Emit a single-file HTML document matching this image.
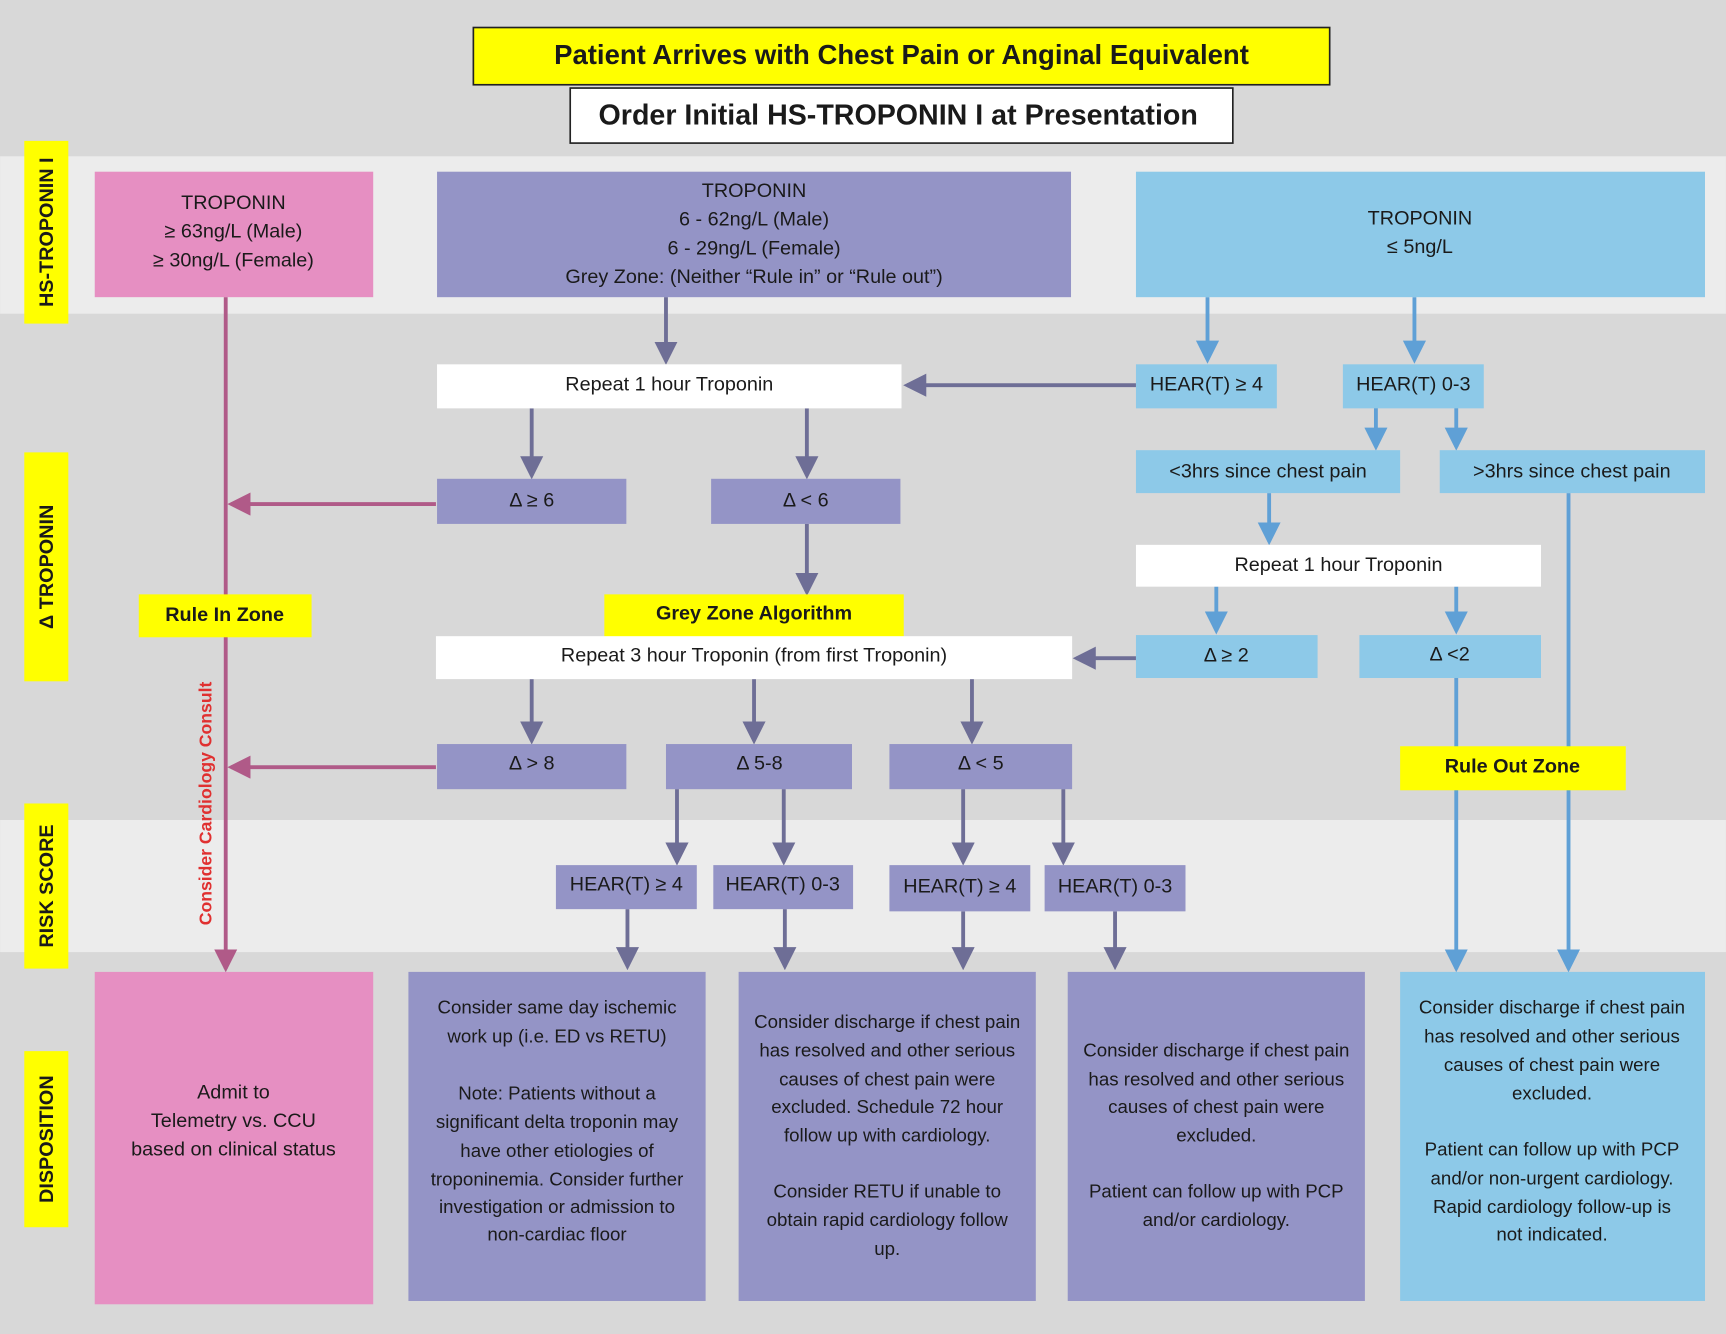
<!DOCTYPE html>
<html><head><meta charset="utf-8"><style>
html,body{margin:0;padding:0;background:#d8d8d8;}
svg{display:block;}
text{font-family:"Liberation Sans",sans-serif;fill:#1a1a1a;}
.b{font-weight:bold;}
</style></head><body>
<svg width="1726" height="1334" viewBox="0 0 1568 1212" xmlns="http://www.w3.org/2000/svg">
<defs>
<marker id="ap" markerWidth="6" markerHeight="6" refX="5" refY="3" orient="auto" markerUnits="strokeWidth"><path d="M0,0 L6,3 L0,6 z" fill="#6e6e96"/></marker>
<marker id="ab" markerWidth="6" markerHeight="6" refX="5" refY="3" orient="auto" markerUnits="strokeWidth"><path d="M0,0 L6,3 L0,6 z" fill="#5fa0d6"/></marker>
<marker id="ak" markerWidth="6" markerHeight="6" refX="5" refY="3" orient="auto" markerUnits="strokeWidth"><path d="M0,0 L6,3 L0,6 z" fill="#b05a88"/></marker>
</defs>
<!-- bands -->
<rect x="0" y="0" width="1568" height="1212" fill="#d8d8d8"/>
<rect x="0" y="142" width="1568" height="143" fill="#ececec"/>
<rect x="0" y="745" width="1568" height="120" fill="#ececec"/>

<!-- header -->
<rect x="430" y="25" width="778" height="52" fill="#ffff00" stroke="#222" stroke-width="1.5"/>
<text x="819" y="58" text-anchor="middle" font-size="25" class="b">Patient Arrives with Chest Pain or Anginal Equivalent</text>
<rect x="518" y="80" width="602" height="50" fill="#fff" stroke="#222" stroke-width="1.5"/>
<text x="816" y="113" text-anchor="middle" font-size="26" class="b">Order Initial HS-TROPONIN I at Presentation</text>

<!-- side labels -->
<g font-size="18" class="b">
<rect x="22" y="128" width="40" height="166" fill="#ffff00"/>
<text transform="translate(48,211) rotate(-90)" text-anchor="middle" class="b">HS-TROPONIN I</text>
<rect x="22" y="411" width="40" height="208" fill="#ffff00"/>
<text transform="translate(48,515) rotate(-90)" text-anchor="middle" class="b">Δ TROPONIN</text>
<rect x="22" y="730" width="40" height="150" fill="#ffff00"/>
<text transform="translate(48,805) rotate(-90)" text-anchor="middle" class="b">RISK SCORE</text>
<rect x="22" y="955" width="40" height="160" fill="#ffff00"/>
<text transform="translate(48,1035) rotate(-90)" text-anchor="middle" class="b">DISPOSITION</text>
</g>

<!-- connectors -->
<g fill="none" stroke-width="3.5">
<line x1="205" y1="270" x2="205" y2="880" stroke="#b05a88" marker-end="url(#ak)"/>
<line x1="396" y1="458" x2="210" y2="458" stroke="#b05a88" marker-end="url(#ak)"/>
<line x1="396" y1="697" x2="210" y2="697" stroke="#b05a88" marker-end="url(#ak)"/>
<g stroke="#6e6e96" marker-end="url(#ap)">
<line x1="605" y1="270" x2="605" y2="328"/>
<line x1="1032" y1="350" x2="824" y2="350"/>
<line x1="483" y1="371" x2="483" y2="432"/>
<line x1="733" y1="371" x2="733" y2="432"/>
<line x1="733" y1="476" x2="733" y2="538"/>
<line x1="1032" y1="598" x2="978" y2="598"/>
<line x1="483" y1="617" x2="483" y2="673"/>
<line x1="685" y1="617" x2="685" y2="673"/>
<line x1="883" y1="617" x2="883" y2="673"/>
<line x1="615" y1="717" x2="615" y2="783"/>
<line x1="712" y1="717" x2="712" y2="783"/>
<line x1="875" y1="717" x2="875" y2="783"/>
<line x1="966" y1="717" x2="966" y2="783"/>
<line x1="570" y1="826" x2="570" y2="878"/>
<line x1="713" y1="826" x2="713" y2="878"/>
<line x1="875" y1="828" x2="875" y2="878"/>
<line x1="1013" y1="828" x2="1013" y2="878"/>
</g>
<g stroke="#5fa0d6" marker-end="url(#ab)">
<line x1="1097" y1="270" x2="1097" y2="327"/>
<line x1="1285" y1="270" x2="1285" y2="327"/>
<line x1="1250" y1="370" x2="1250" y2="406"/>
<line x1="1323" y1="370" x2="1323" y2="406"/>
<line x1="1153" y1="448" x2="1153" y2="492"/>
<line x1="1105" y1="533" x2="1105" y2="573"/>
<line x1="1323" y1="533" x2="1323" y2="573"/>
<line x1="1323" y1="616" x2="1323" y2="880"/>
<line x1="1425" y1="448" x2="1425" y2="880"/>
</g>
</g>

<!-- top boxes -->
<rect x="86" y="156" width="253" height="114" fill="#e68fc2"/>
<g font-size="18" text-anchor="middle">
<text x="212" y="190">TROPONIN</text>
<text x="212" y="216">≥ 63ng/L (Male)</text>
<text x="212" y="242">≥ 30ng/L (Female)</text>
</g>
<rect x="397" y="156" width="576" height="114" fill="#9494c6"/>
<g font-size="18" text-anchor="middle">
<text x="685" y="179">TROPONIN</text>
<text x="685" y="205">6 - 62ng/L (Male)</text>
<text x="685" y="231">6 - 29ng/L (Female)</text>
<text x="685" y="257">Grey Zone: (Neither “Rule in” or “Rule out”)</text>
</g>
<rect x="1032" y="156" width="517" height="114" fill="#8dc9e8"/>
<g font-size="18" text-anchor="middle">
<text x="1290" y="204">TROPONIN</text>
<text x="1290" y="230">≤ 5ng/L</text>
</g>

<!-- mid boxes -->
<g font-size="18" text-anchor="middle">
<rect x="397" y="331" width="422" height="40" fill="#fff"/><text x="608" y="355">Repeat 1 hour Troponin</text>
<rect x="1032" y="331" width="128" height="40" fill="#8dc9e8"/><text x="1096" y="355">HEAR(T) ≥ 4</text>
<rect x="1220" y="331" width="128" height="40" fill="#8dc9e8"/><text x="1284" y="355">HEAR(T) 0-3</text>
<rect x="1032" y="409" width="240" height="39" fill="#8dc9e8"/><text x="1152" y="434">&lt;3hrs since chest pain</text>
<rect x="1308" y="409" width="241" height="39" fill="#8dc9e8"/><text x="1428" y="434">&gt;3hrs since chest pain</text>
<rect x="397" y="435" width="172" height="41" fill="#9494c6"/><text x="483" y="460">Δ ≥ 6</text>
<rect x="646" y="435" width="172" height="41" fill="#9494c6"/><text x="732" y="460">Δ &lt; 6</text>
<rect x="1032" y="495" width="368" height="38" fill="#fff"/><text x="1216" y="519">Repeat 1 hour Troponin</text>
<rect x="126" y="540" width="157" height="39" fill="#ffff00"/><text x="204" y="564" class="b">Rule In Zone</text>
<rect x="549" y="540" width="272" height="39" fill="#ffff00"/><text x="685" y="563" class="b">Grey Zone Algorithm</text>
<rect x="396" y="578" width="578" height="39" fill="#fff"/><text x="685" y="601">Repeat 3 hour Troponin (from first Troponin)</text>
<rect x="1032" y="577" width="165" height="39" fill="#8dc9e8"/><text x="1114" y="601">Δ ≥ 2</text>
<rect x="1235" y="577" width="165" height="39" fill="#8dc9e8"/><text x="1317" y="600">Δ &lt;2</text>
<rect x="397" y="676" width="172" height="41" fill="#9494c6"/><text x="483" y="699">Δ &gt; 8</text>
<rect x="605" y="676" width="169" height="41" fill="#9494c6"/><text x="690" y="699">Δ 5-8</text>
<rect x="808" y="676" width="166" height="41" fill="#9494c6"/><text x="891" y="699">Δ &lt; 5</text>
<rect x="1272" y="678" width="205" height="40" fill="#ffff00"/><text x="1374" y="702" class="b">Rule Out Zone</text>
<rect x="505" y="786" width="128" height="40" fill="#9494c6"/><text x="569" y="809">HEAR(T) ≥ 4</text>
<rect x="648" y="786" width="127" height="40" fill="#9494c6"/><text x="711" y="809">HEAR(T) 0-3</text>
<rect x="808" y="786" width="128" height="42" fill="#9494c6"/><text x="872" y="811">HEAR(T) ≥ 4</text>
<rect x="949" y="786" width="128" height="42" fill="#9494c6"/><text x="1013" y="811">HEAR(T) 0-3</text>
</g>
<text transform="translate(192,730) rotate(-90)" text-anchor="middle" font-size="16" class="b" style="fill:#e03030">Consider Cardiology Consult</text>

<!-- bottom boxes -->
<rect x="86" y="883" width="253" height="302" fill="#e68fc2"/>
<rect x="371" y="883" width="270" height="299" fill="#9494c6"/>
<rect x="671" y="883" width="270" height="299" fill="#9494c6"/>
<rect x="970" y="883" width="270" height="299" fill="#9494c6"/>
<rect x="1272" y="883" width="277" height="299" fill="#8dc9e8"/>
<g font-size="17" text-anchor="middle">
<text x="212" y="998" font-size="18">Admit to</text>
<text x="212" y="1024" font-size="18">Telemetry vs. CCU</text>
<text x="212" y="1050" font-size="18">based on clinical status</text>

<text x="506" y="921">Consider same day ischemic</text>
<text x="506" y="947">work up (i.e. ED vs RETU)</text>
<text x="506" y="999">Note: Patients without a</text>
<text x="506" y="1025">significant delta troponin may</text>
<text x="506" y="1051">have other etiologies of</text>
<text x="506" y="1077">troponinemia. Consider further</text>
<text x="506" y="1102">investigation or admission to</text>
<text x="506" y="1127">non-cardiac floor</text>

<text x="806" y="934">Consider discharge if chest pain</text>
<text x="806" y="960">has resolved and other serious</text>
<text x="806" y="986">causes of chest pain were</text>
<text x="806" y="1011">excluded. Schedule 72 hour</text>
<text x="806" y="1037">follow up with cardiology.</text>
<text x="806" y="1088">Consider RETU if unable to</text>
<text x="806" y="1114">obtain rapid cardiology follow</text>
<text x="806" y="1140">up.</text>

<text x="1105" y="960">Consider discharge if chest pain</text>
<text x="1105" y="986">has resolved and other serious</text>
<text x="1105" y="1011">causes of chest pain were</text>
<text x="1105" y="1037">excluded.</text>
<text x="1105" y="1088">Patient can follow up with PCP</text>
<text x="1105" y="1114">and/or cardiology.</text>

<text x="1410" y="921">Consider discharge if chest pain</text>
<text x="1410" y="947">has resolved and other serious</text>
<text x="1410" y="973">causes of chest pain were</text>
<text x="1410" y="999">excluded.</text>
<text x="1410" y="1050">Patient can follow up with PCP</text>
<text x="1410" y="1076">and/or non-urgent cardiology.</text>
<text x="1410" y="1102">Rapid cardiology follow-up is</text>
<text x="1410" y="1127">not indicated.</text>
</g>
</svg>
</body></html>
